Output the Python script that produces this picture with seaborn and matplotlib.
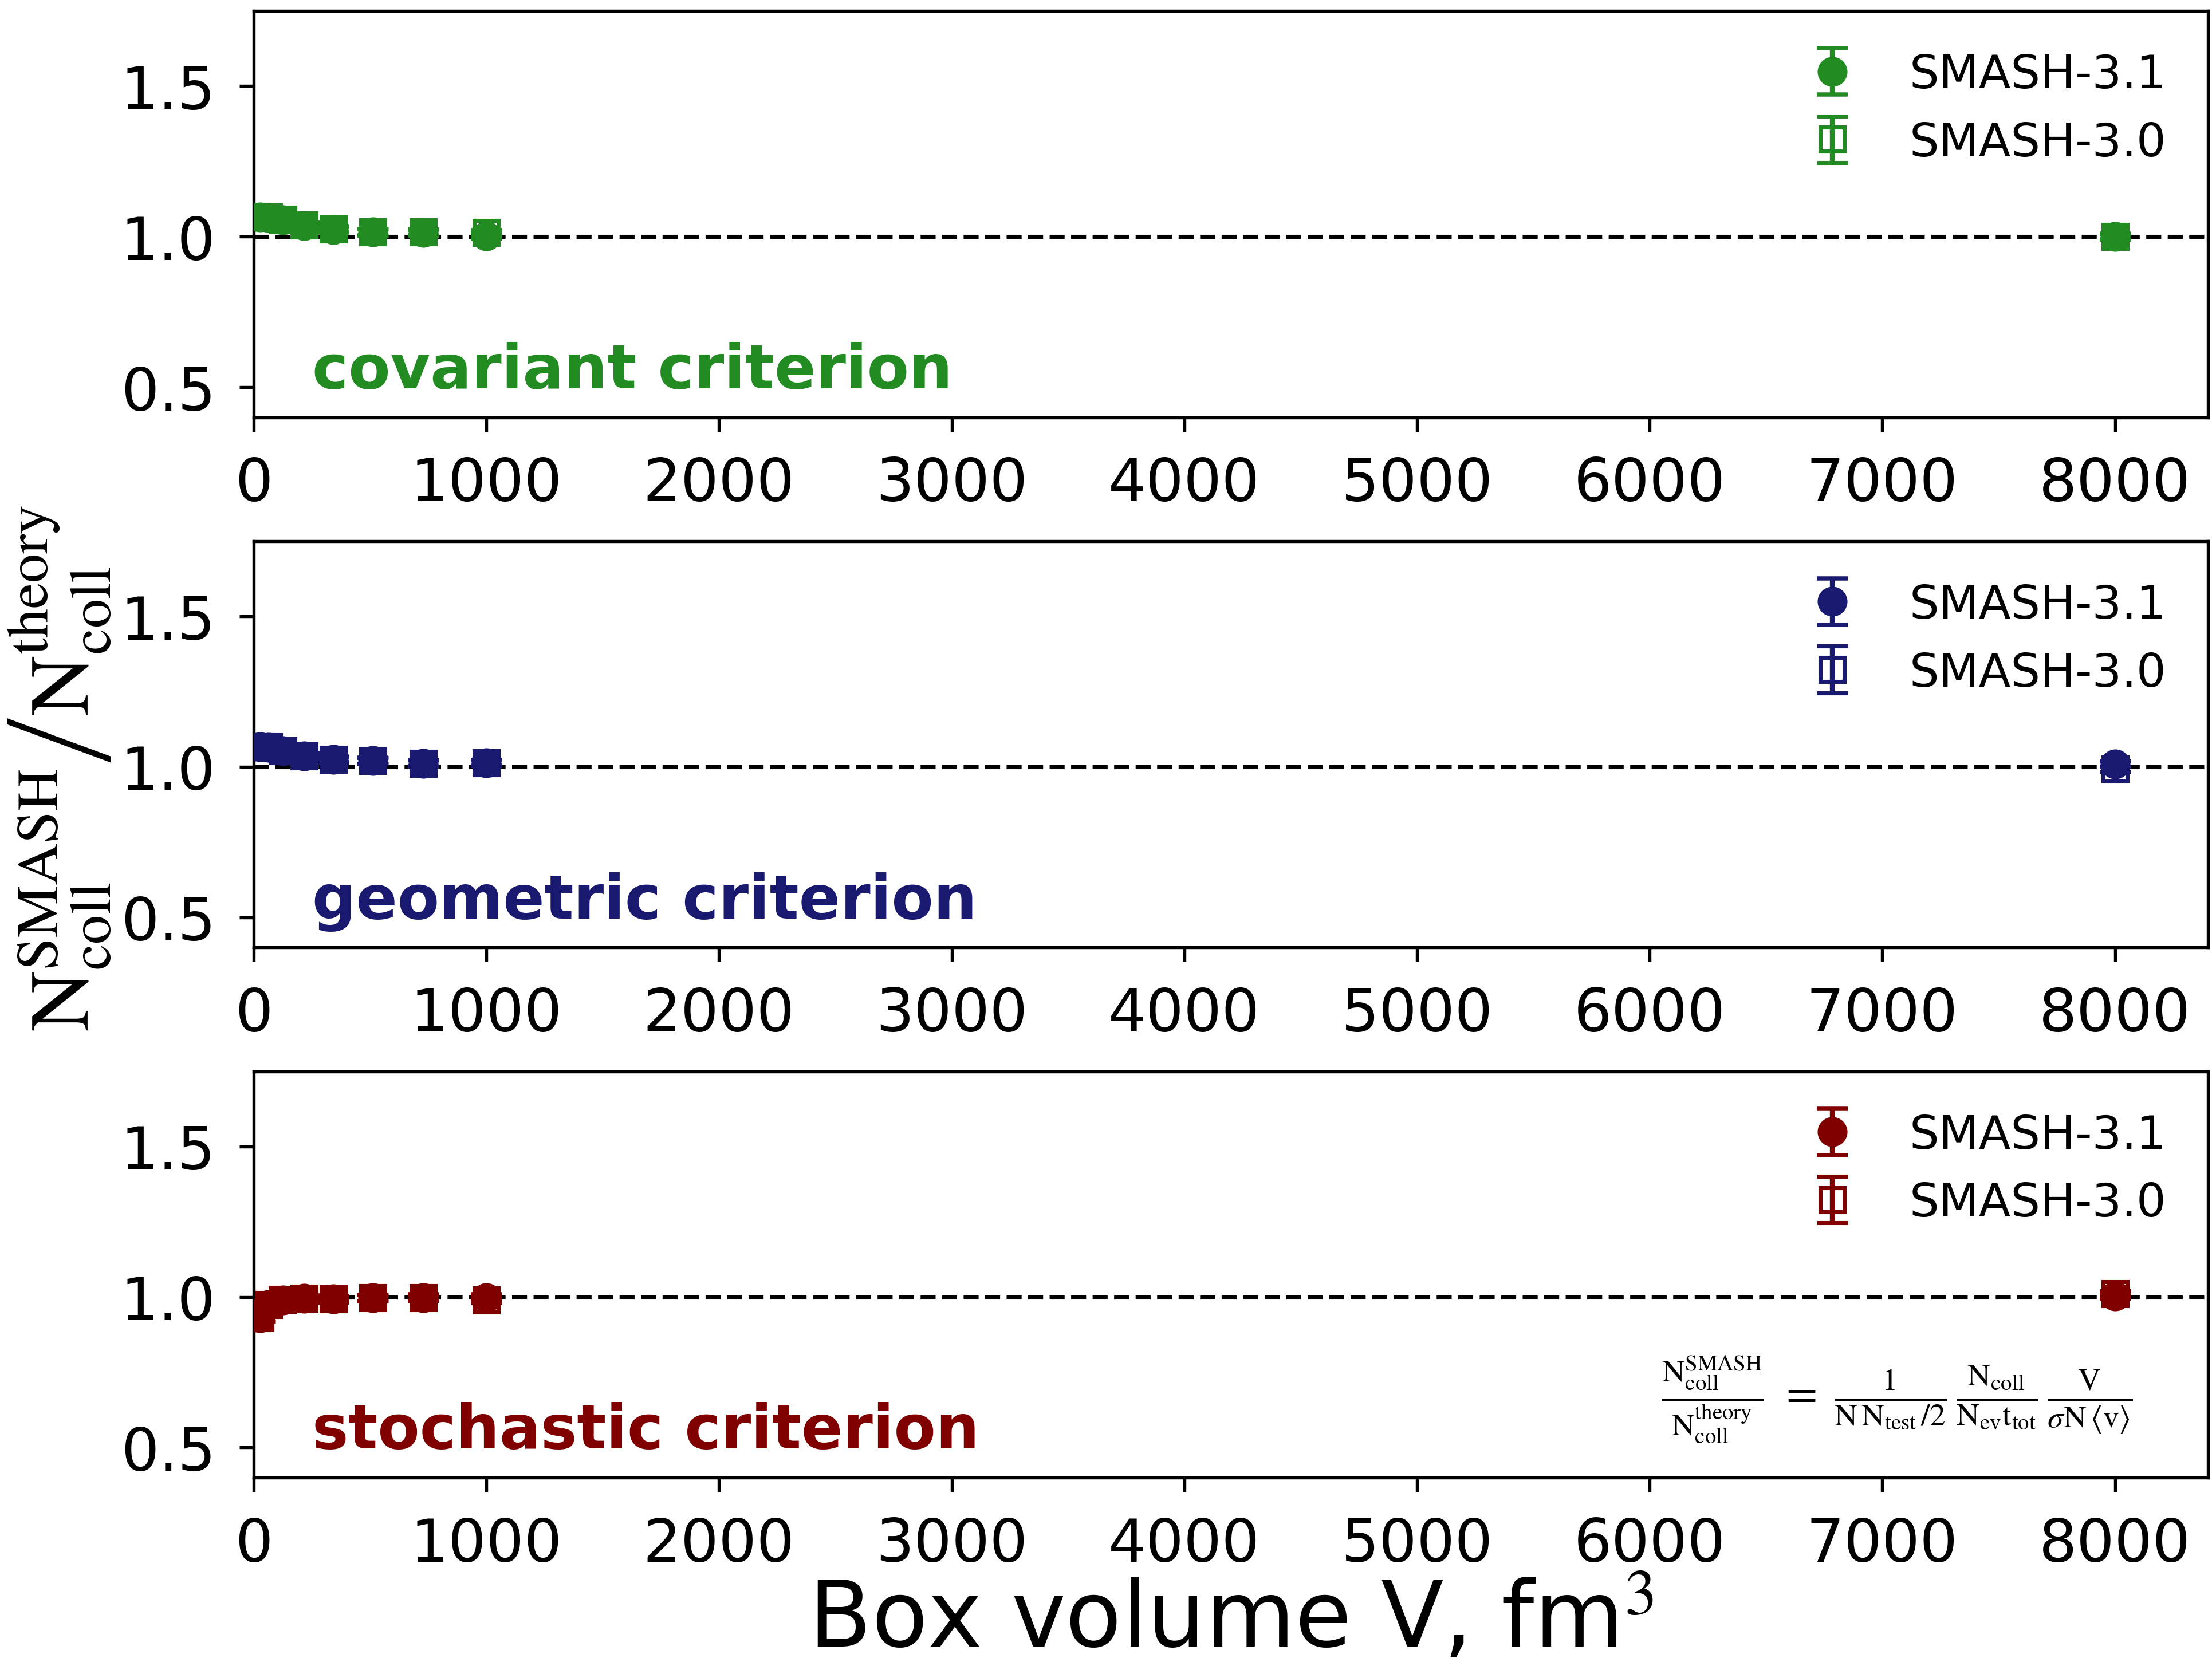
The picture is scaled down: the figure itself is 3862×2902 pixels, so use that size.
import matplotlib
matplotlib.use("Agg")
import matplotlib.pyplot as plt
import seaborn as sns
import pandas as pd

# box volumes, fm^3
volume = [27, 64, 125, 216, 343, 512, 729, 1000, 8000]

# N_coll(SMASH) / N_coll(theory)
cov_31 = [1.065, 1.064, 1.056, 1.037, 1.024, 1.015, 1.014, 1.002, 1.000]
cov_30 = [1.065, 1.065, 1.057, 1.038, 1.025, 1.015, 1.015, 1.013, 1.000]
geo_31 = [1.066, 1.065, 1.053, 1.036, 1.025, 1.020, 1.012, 1.013, 1.009]
geo_30 = [1.066, 1.066, 1.053, 1.036, 1.025, 1.021, 1.012, 1.014, 0.992]
sto_31 = [0.930, 0.975, 0.990, 0.995, 0.994, 0.997, 0.998, 0.998, 1.004]
sto_30 = [0.930, 0.975, 0.991, 0.995, 0.993, 0.997, 0.998, 0.990, 1.011]
err = [0.01] * len(volume)

criteria = ["covariant criterion", "geometric criterion", "stochastic criterion"]
colors = ["forestgreen", "midnightblue", "maroon"]
series = [(cov_31, cov_30), (geo_31, geo_30), (sto_31, sto_30)]

sns.set_style("ticks")
plt.rcParams["font.family"] = ["DejaVu Sans"]
plt.rcParams["mathtext.fontset"] = "stix"
for k in ["text.color", "axes.labelcolor", "xtick.color", "ytick.color", "axes.edgecolor"]:
    plt.rcParams[k] = "black"

fig, axes = plt.subplots(3, 1, figsize=(3862 / 300, 2903 / 300), dpi=300)
fig.subplots_adjust(left=0.1147, right=0.9982, top=0.9931, bottom=0.1109, hspace=0.3047)

for ax, name, col, (v31, v30) in zip(axes, criteria, colors, series):
    df = pd.DataFrame({"V": volume, "r31": v31, "r30": v30, "err": err})
    ax.axhline(1.0, color="black", ls="--", lw=1.7, zorder=1)
    h31 = ax.errorbar(df["V"], df["r31"], yerr=df["err"], fmt="o", ms=11.5, color=col,
                      ecolor=col, elinewidth=2, capsize=6.5, capthick=1.8,
                      label="SMASH-3.1", zorder=3)
    h30 = ax.errorbar(df["V"], df["r30"], yerr=df["err"], fmt="s", ms=10, mew=1.7,
                      mfc="none", mec=col, color=col, ecolor=col, elinewidth=2,
                      capsize=6.5, capthick=1.8, label="SMASH-3.0", zorder=4)
    ax.set_xlim(0, 8400)
    ax.set_ylim(0.4, 1.75)
    ax.set_xticks(range(0, 8001, 1000))
    ax.set_yticks([0.5, 1.0, 1.5])
    ax.tick_params(labelsize=25, length=6, width=1.3, pad=10)
    for s in ax.spines.values():
        s.set_linewidth(1.3)
    ax.text(0.03, 0.073, name, transform=ax.transAxes, color=col, fontsize=25.6,
            fontweight="bold", ha="left", va="baseline")
    ax.legend(handles=[h31, h30], loc="upper right", frameon=False, fontsize=19.5,
              handletextpad=0.65)

axes[2].set_xlabel(r"Box volume V, fm$^3$", fontsize=38.5, labelpad=1)

fig.text(0.027, 0.538,
         r"$\mathrm{N_{coll}^{SMASH}}\left/\mathrm{N_{coll}^{theory}}\right.$",
         rotation=90, ha="center", va="center", fontsize=35)

formula = (r"$\frac{\mathrm{N_{coll}^{SMASH}}}{\mathrm{N_{coll}^{theory}}}"
           r"\ =\ \frac{\mathrm{1}}{\mathrm{N\,N_{test}\,/2}}\,"
           r"\frac{\mathrm{N_{coll}}}{\mathrm{N_{ev}t_{tot}}}\,"
           r"\frac{\mathrm{V}}{\sigma\mathrm{N}\,\langle\mathrm{v}\rangle}$")
axes[2].text(0.841, 0.192, formula, transform=axes[2].transAxes, ha="center",
             va="center", fontsize=19)

fig.savefig("out.png", dpi=300)
